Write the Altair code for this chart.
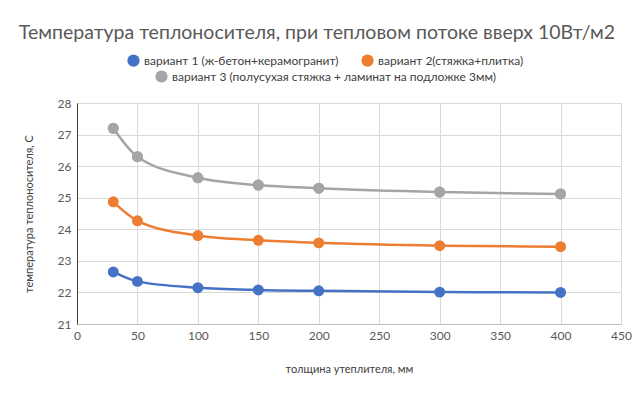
import altair as alt
import pandas as pd

thickness = [30, 50, 100, 150, 200, 300, 400]
series_names = [
    "вариант 1 (ж-бетон+керамогранит)",
    "вариант 2(стяжка+плитка)",
    "вариант 3 (полусухая стяжка + ламинат на подложке 3мм)",
]
v1 = [22.65, 22.35, 22.15, 22.08, 22.05, 22.01, 22.00]
v2 = [24.87, 24.27, 23.80, 23.65, 23.57, 23.48, 23.45]
v3 = [27.20, 26.30, 25.63, 25.40, 25.30, 25.18, 25.12]
colors = ["#4472C4", "#ED7D31", "#A5A5A5"]

rows = []
for name, vals in zip(series_names, [v1, v2, v3]):
    for t, v in zip(thickness, vals):
        rows.append({"x": t, "y": v, "s": name, "s2": name})
df = pd.DataFrame(rows)

FONT = "Lato"
LBL = dict(labelFontSize=12, labelColor="#404040", labelFont=FONT,
           labelLimit=400, symbolType="circle", symbolSize=150,
           symbolStrokeWidth=0, title=None, direction="horizontal")

color = alt.Color(
    "s:N",
    scale=alt.Scale(domain=series_names, range=colors),
    legend=alt.Legend(values=series_names[:2], orient="none",
                      legendX=50, legendY=-49, columnPadding=22, **LBL),
)
fill3 = alt.Fill(
    "s2:N",
    scale=alt.Scale(domain=series_names[2:], range=colors[2:]),
    legend=alt.Legend(orient="none", legendX=78, legendY=-33, **LBL),
)
x = alt.X("x:Q", title="толщина утеплителя, мм",
          scale=alt.Scale(domain=[0, 450], nice=False),
          axis=alt.Axis(values=list(range(0, 451, 50)), titlePadding=22,
                        labelFlush=False))
y = alt.Y("y:Q", title="температура теплоносителя, С",
          scale=alt.Scale(domain=[21, 28], nice=False),
          axis=alt.Axis(values=list(range(21, 29)), titlePadding=23,
                        labelFlush=False))

base = alt.Chart(df).encode(x=x, y=y)
lines = base.mark_line(interpolate="monotone", strokeWidth=2.5).encode(color=color)
points = base.mark_circle(size=120, opacity=1).encode(color=color)
points3 = base.transform_filter(
    alt.datum.s2 == series_names[2]
).mark_circle(size=120, opacity=1).encode(fill=fill3)

chart = (lines + points + points3).properties(
    width=544, height=221,
    title=alt.TitleParams(
        "Температура теплоносителя, при тепловом потоке вверх 10Вт/м2",
        fontSize=19.5, font=FONT, color="#595959", fontWeight="normal",
        offset=11, dx=-32,
    ),
    padding={"left": 10, "top": 14, "right": 0, "bottom": 5},
).configure_axis(
    labelFont=FONT, titleFont=FONT, labelFontSize=12, titleFontSize=11,
    labelColor="#595959", titleColor="#404040", titleFontWeight="normal",
    gridColor="#D9D9D9", domainColor="#BFBFBF", ticks=False, labelPadding=6,
).configure_axisY(domainColor="#404040").configure_view(
    stroke="#D9D9D9"
)

chart.save("out.html", embed_options={"renderer": "svg", "actions": False})
